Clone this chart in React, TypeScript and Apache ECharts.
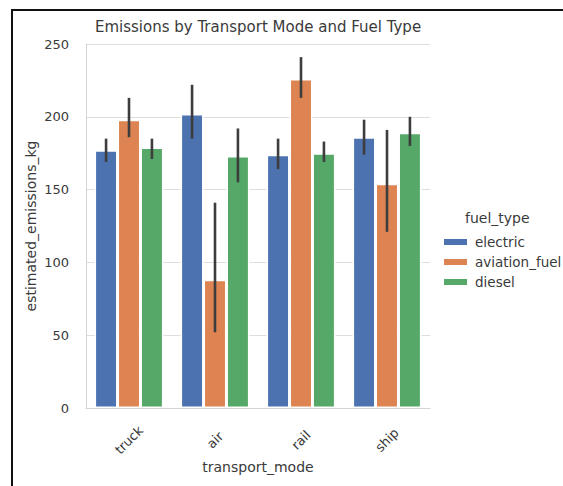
import React, { useEffect, useRef } from "react";
import * as echarts from "echarts";

// Mean estimated emissions (kg) per transport mode, one list per fuel type
const categories = ["truck", "air", "rail", "ship"];
const fuelTypes = ["electric", "aviation_fuel", "diesel"];

const electric = [177, 202, 174, 186];
const aviationFuel = [198, 88, 226, 154];
const diesel = [179, 173, 175, 189];

// 95% confidence interval bounds for each mean
const electricLow = [169, 185, 164, 174];
const electricHigh = [185, 222, 185, 198];
const aviationFuelLow = [186, 52, 213, 121];
const aviationFuelHigh = [213, 141, 241, 191];
const dieselLow = [171, 155, 169, 180];
const dieselHigh = [185, 192, 183, 200];

const yTicks = [0, 50, 100, 150, 200, 250];

const colors = ["#4c72b0", "#dd8452", "#55a868"];
const textColor = "#3a3a3a";
const fontFamily = "DejaVu Sans, sans-serif";

export default function App() {
  const ref = useRef<HTMLDivElement>(null);

  useEffect(() => {
    if (!ref.current) return;
    const chart = echarts.init(ref.current, undefined, { renderer: "svg" });

    const means = [electric, aviationFuel, diesel];
    const lows = [electricLow, aviationFuelLow, dieselLow];
    const highs = [electricHigh, aviationFuelHigh, dieselHigh];

    const errData: number[][] = [];
    for (let s = 0; s < 3; s++) {
      for (let c = 0; c < categories.length; c++) {
        errData.push([c, lows[s][c], highs[s][c], s]);
      }
    }

    const barSeries = fuelTypes.map((name, s) => ({
      name,
      type: "bar",
      data: means[s],
      barCategoryGap: "20%",
      barGap: "0%",
      itemStyle: { color: colors[s], borderColor: "#ffffff", borderWidth: 1.5 },
      z: 2,
    }));

    chart.setOption({
      animation: false,
      backgroundColor: "#ffffff",
      textStyle: { fontFamily },
      title: {
        text: "Emissions by Transport Mode and Fuel Type",
        left: 253,
        top: 14,
        textAlign: "center",
        textStyle: { fontFamily, fontSize: 15, fontWeight: "normal", color: textColor },
      },
      legend: {
        data: fuelTypes,
        orient: "vertical",
        left: 437,
        top: 230,
        itemWidth: 25,
        itemHeight: 8,
        itemGap: 6,
        icon: "rect",
        textStyle: { fontFamily, fontSize: 13.5, color: textColor, padding: [0, 0, 0, 2] },
      },
      grid: { left: 86, right: 133, top: 44, bottom: 78, containLabel: false },
      xAxis: {
        type: "category",
        data: categories,
        name: "transport_mode",
        nameLocation: "middle",
        nameGap: 52,
        nameMoveOverlap: false,
        nameTextStyle: { fontFamily, fontSize: 14, color: textColor },
        axisLine: { show: true, lineStyle: { color: "#d4d4d4", width: 1 } },
        axisTick: { show: false },
        axisLabel: {
          rotate: 45,
          align: "center",
          verticalAlign: "middle",
          margin: 32,
          fontFamily,
          fontSize: 13,
          color: textColor,
        },
        splitLine: { show: false },
      },
      yAxis: {
        type: "value",
        min: yTicks[0],
        max: yTicks[yTicks.length - 1],
        interval: yTicks[1] - yTicks[0],
        name: "estimated_emissions_kg",
        nameLocation: "middle",
        nameGap: 48,
        nameMoveOverlap: false,
        nameTextStyle: { fontFamily, fontSize: 14, color: textColor },
        axisLine: { show: true, lineStyle: { color: "#d4d4d4", width: 1 } },
        axisTick: { show: false },
        axisLabel: { margin: 17, fontFamily, fontSize: 13, color: textColor },
        splitLine: { show: true, lineStyle: { color: "#dedede", width: 1 } },
      },
      graphic: [
        {
          type: "text",
          left: 465,
          top: 211,
          style: { text: "fuel_type", fontFamily, fontSize: 14, fill: textColor },
        },
        {
          type: "line",
          shape: { x1: 11, y1: 10, x2: 563, y2: 10 },
          style: { stroke: "#111111", lineWidth: 2 },
        },
        {
          type: "line",
          shape: { x1: 12, y1: 9, x2: 12, y2: 486 },
          style: { stroke: "#111111", lineWidth: 2 },
        },
      ],
      series: [
        ...barSeries,
        {
          type: "custom",
          name: "ci",
          data: errData,
          z: 5,
          encode: { x: 0, y: [1, 2] },
          renderItem: (params: any, api: any) => {
            const c = api.value(0);
            const lo = api.coord([c, api.value(1)]);
            const hi = api.coord([c, api.value(2)]);
            const s = api.value(3);
            const band = api.size([1, 0])[0];
            const barW = (band * 0.8) / 3;
            const x = lo[0] + (s - 1) * barW;
            return {
              type: "line",
              shape: { x1: x, y1: lo[1], x2: x, y2: hi[1] },
              style: { stroke: "#3d3d3d", lineWidth: 2.6 },
            };
          },
        },
      ],
    });

    return () => chart.dispose();
  }, []);

  return (
    <div
      ref={ref}
      style={{ position: "fixed", left: 0, top: 0, width: 563, height: 486 }}
    />
  );
}
